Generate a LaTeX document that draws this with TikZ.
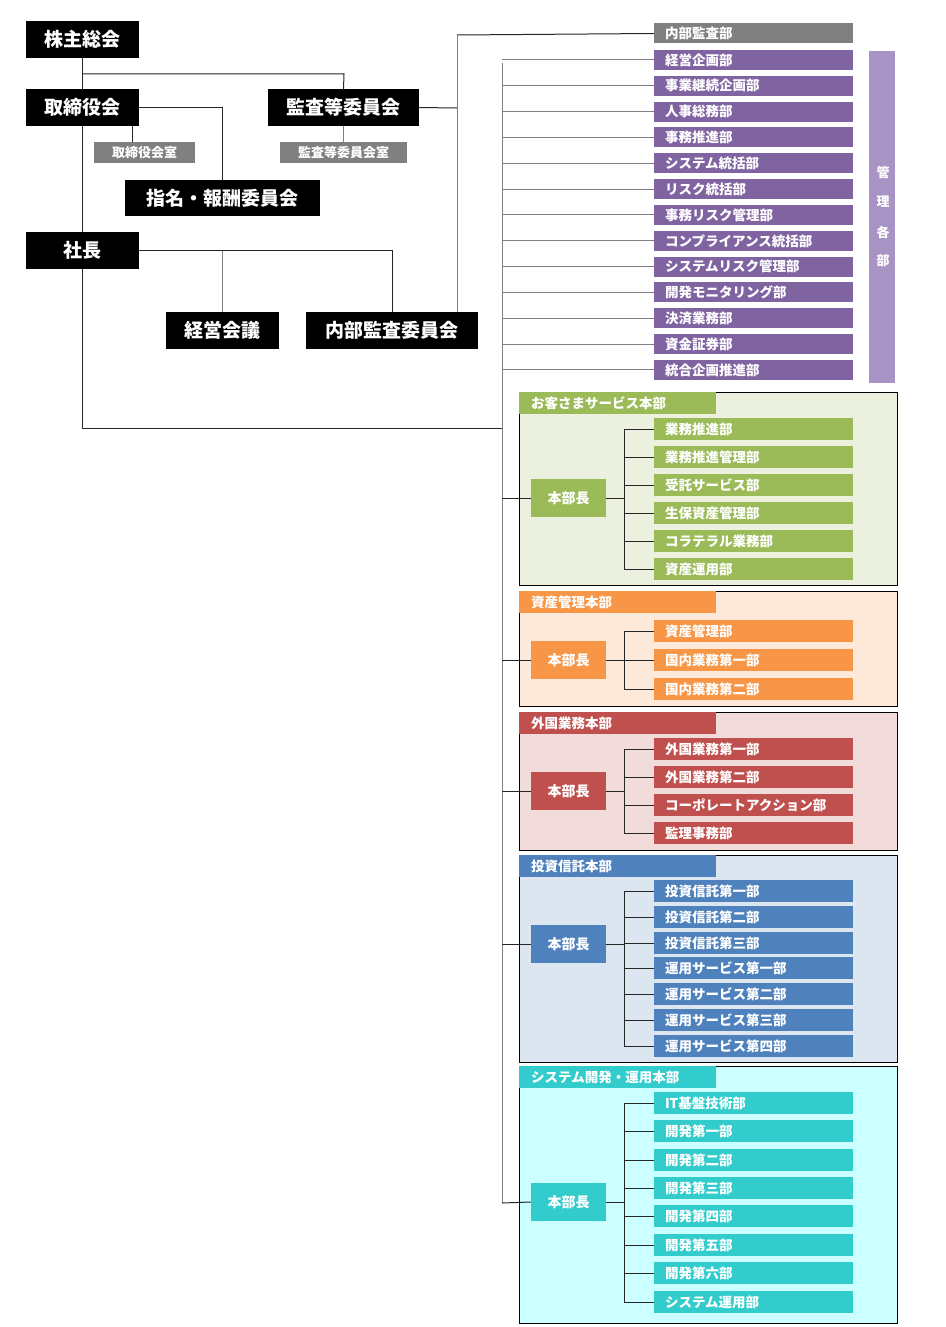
\documentclass[tikz,border=0pt]{standalone}
\usepackage{fontspec}
\setmainfont{Noto Sans CJK JP}
\definecolor{purp}{HTML}{8064A2}
\definecolor{lpurp}{HTML}{A794C4}
\definecolor{gry}{HTML}{808080}
\definecolor{grn}{HTML}{9BBB59}\definecolor{grnbg}{HTML}{EBF1DE}
\definecolor{org}{HTML}{F79646}\definecolor{orgbg}{HTML}{FDE9D9}
\definecolor{rd}{HTML}{C0504D}\definecolor{rdbg}{HTML}{F2DCDB}
\definecolor{blu}{HTML}{4F81BD}\definecolor{blubg}{HTML}{DCE6F1}
\definecolor{tea}{HTML}{33CCCC}\definecolor{teabg}{HTML}{CCFFFF}
\begin{document}
\begin{tikzpicture}[x=1pt,y=-1pt,
  blk/.style={fill=black,text=white,font=\bfseries\fontsize{19}{19}\selectfont,inner sep=0pt,minimum height=37pt},
  gbox/.style={fill=gry,text=white,font=\bfseries\fontsize{13}{13}\selectfont,inner sep=0pt,minimum height=21pt},
  dbox/.style={fill=#1,text=white,font=\bfseries\fontsize{13.5}{13.5}\selectfont,inner xsep=11pt,inner ysep=0pt,text width=177pt,align=left,minimum height=20pt},
  sbox/.style={dbox=#1,minimum height=22pt},
  hdr/.style={fill=#1,text=white,font=\bfseries\fontsize{13.5}{13.5}\selectfont,inner xsep=12pt,inner ysep=0pt,text width=173pt,align=left,minimum height=22pt,anchor=north west},
  chief/.style={fill=#1,text=white,font=\bfseries\fontsize{14}{14}\selectfont,inner sep=0pt,minimum width=75pt,minimum height=38pt},
  frame/.style={draw=black,fill=#1,line width=0.8pt,inner sep=0pt,anchor=north west,minimum width=378pt},
  ln/.style={draw=black!85,line width=1pt},
  gl/.style={draw=gry,line width=1pt}]
\useasboundingbox (0,0) rectangle (945,1327);
% top boxes
\node[blk,minimum width=113pt] (kabu) at (82.5,39.5) {株主総会};
\node[blk,minimum width=113pt] (tori) at (82.5,107.5) {取締役会};
\node[blk,minimum width=151pt] (kansa) at (343.5,107.5) {監査等委員会};
\node[gbox,minimum width=101pt] (torishitsu) at (144.5,152.5) {取締役会室};
\node[gbox,minimum width=127pt] (kansashitsu) at (343.5,152.5) {監査等委員会室};
\node[blk,minimum width=195pt,minimum height=36pt] (shimei) at (222.5,198) {指名・報酬委員会};
\node[blk,minimum width=113pt] (shacho) at (82.5,250.5) {社長};
\node[blk,minimum width=113pt] (keiei) at (222.5,330.5) {経営会議};
\node[blk,minimum width=172pt] (naibu) at (392,330.5) {内部監査委員会};
\coordinate (cA) at (83,74); \coordinate (cB) at (344,74);
\draw[ln] (kabu.south) -- (tori.north);
\draw[ln] (tori.south) -- (shacho.north);
\draw[ln] (cA) -- (cB) -- (kansa.north);
\draw[ln] (tori.east) -| (shimei.north);
\draw[ln] (tori.south -| torishitsu.north) ++(-12,0) coordinate (cT) -- (cT |- torishitsu.north);
\draw[gl] (kansa.south) -- (kansashitsu.north);
\draw[ln] (shacho.east) -| (naibu.north);
\draw[gl] (keiei.north) -- ++(0,-61) coordinate (cK);
\coordinate (cN) at (457,108); \coordinate (cTop) at (457,35);
\draw[ln] (kansa.east) -- (cN);
\draw[gl] (cTop) -- (cN |- naibu.north);
\node[gbox,dbox=gry] (naikan) at (753.5,33.5) {内部監査部};
\draw[ln] (cTop) -- (naikan.west);
% vertical trunk
\coordinate (trT) at (502,63); \coordinate (trB) at (502,1203); \coordinate (cL) at (502,428);
\draw[ln] (shacho.south) |- (cL);
\draw[gl] (trT) -- (trB);
% management departments
\foreach \t [count=\i] in {経営企画部,事業継続企画部,人事総務部,事務推進部,システム統括部,リスク統括部,事務リスク管理部,コンプライアンス統括部,システムリスク管理部,開発モニタリング部,決済業務部,資金証券部,統合企画推進部}{
  \node[dbox=purp] (p\i) at (753.5,{60+25.83*(\i-1)}) {\t};
  \draw[gl] (502,{60+25.83*(\i-1)}) coordinate (pc\i) -- (p\i.west);
}
\node[fill=lpurp,minimum width=26pt,minimum height=332pt,inner sep=0pt] (kanri) at (882,217) {};
\foreach \c/\y in {管/173,理/202,各/232,部/261}
  \node[text=white,font=\bfseries\fontsize{13}{13}\selectfont,inner sep=0pt] (k\y) at (883,\y) {\c};
% section macro-like blocks
% 1
\node[frame=grnbg,minimum height=193pt] (f1) at (519,392) {};
\node[hdr=grn] (h1) at (519,392) {お客さまサービス本部};
\node[chief=grn] (c1) at (568.5,498) {本部長};
\draw[ln] (502,498) coordinate (b1) -- (c1.west);
\draw[ln] (c1.east) -- (624,498);
\draw[ln] (624,429) -- (624,569);
\foreach \t/\y [count=\i] in {業務推進部/429,業務推進管理部/457,受託サービス部/485,生保資産管理部/513,コラテラル業務部/541,資産運用部/569}{
  \node[sbox=grn] (s1\i) at (753.5,\y) {\t};
  \draw[ln] (624,\y) coordinate (q1\i) -- (s1\i.west);}
% 2
\node[frame=orgbg,minimum height=115pt] (f2) at (519,591) {};
\node[hdr=org] (h2) at (519,591) {資産管理本部};
\node[chief=org] (c2) at (568.5,660) {本部長};
\draw[ln] (502,660) coordinate (b2) -- (c2.west);
\draw[ln] (c2.east) -- (624,660);
\draw[ln] (624,631) -- (624,689);
\foreach \t/\y [count=\i] in {資産管理部/631,国内業務第一部/660,国内業務第二部/689}{
  \node[sbox=org] (s2\i) at (753.5,\y) {\t};
  \draw[ln] (624,\y) coordinate (q2\i) -- (s2\i.west);}
% 3
\node[frame=rdbg,minimum height=138pt] (f3) at (519,712) {};
\node[hdr=rd] (h3) at (519,712) {外国業務本部};
\node[chief=rd] (c3) at (568.5,791) {本部長};
\draw[ln] (502,791) coordinate (b3) -- (c3.west);
\draw[ln] (c3.east) -- (624,791);
\draw[ln] (624,749) -- (624,833);
\foreach \t/\y [count=\i] in {外国業務第一部/749,外国業務第二部/777,コーポレートアクション部/805,監理事務部/833}{
  \node[sbox=rd] (s3\i) at (753.5,\y) {\t};
  \draw[ln] (624,\y) coordinate (q3\i) -- (s3\i.west);}
% 4
\node[frame=blubg,minimum height=207pt] (f4) at (519,855) {};
\node[hdr=blu] (h4) at (519,855) {投資信託本部};
\node[chief=blu] (c4) at (568.5,944) {本部長};
\draw[ln] (502,944) coordinate (b4) -- (c4.west);
\draw[ln] (c4.east) -- (624,944);
\draw[ln] (624,891) -- (624,1046);
\foreach \t/\y [count=\i] in {投資信託第一部/891,投資信託第二部/917,投資信託第三部/943,運用サービス第一部/968,運用サービス第二部/994,運用サービス第三部/1020,運用サービス第四部/1046}{
  \node[sbox=blu] (s4\i) at (753.5,\y) {\t};
  \draw[ln] (624,\y) coordinate (q4\i) -- (s4\i.west);}
% 5
\node[frame=teabg,minimum height=257pt] (f5) at (519,1066) {};
\node[hdr=tea] (h5) at (519,1066) {システム開発・運用本部};
\node[chief=tea] (c5) at (568.5,1202) {本部長};
\draw[ln] (trB) -- (c5.west);
\draw[ln] (c5.east) -- (624,1202);
\draw[ln] (624,1103) -- (624,1302);
\foreach \t/\y [count=\i] in {IT基盤技術部/1103,開発第一部/1131,開発第二部/1160,開発第三部/1188,開発第四部/1216,開発第五部/1245,開発第六部/1273,システム運用部/1302}{
  \node[sbox=tea] (s5\i) at (753.5,\y) {\t};
  \draw[ln] (624,\y) coordinate (q5\i) -- (s5\i.west);}
\end{tikzpicture}
\end{document}
